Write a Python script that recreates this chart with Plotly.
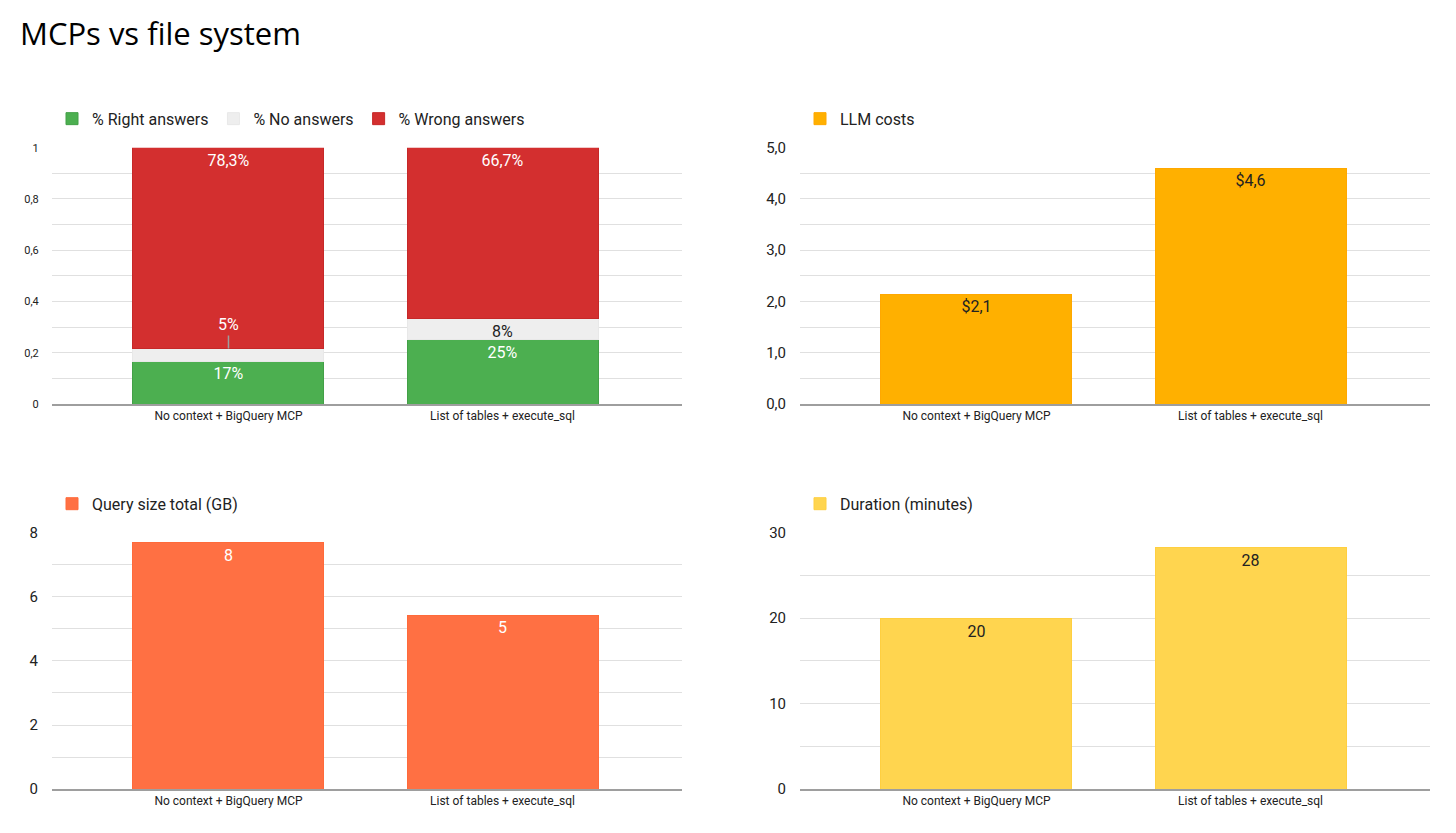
import plotly.graph_objects as go

categories = ["No context + BigQuery MCP", "List of tables + execute_sql"]

right_answers = [0.167, 0.25]
no_answers = [0.05, 0.083]
wrong_answers = [0.783, 0.667]
right_labels = ["17%", "25%"]
no_labels = ["5%", "8%"]
wrong_labels = ["78,3%", "66,7%"]

llm_costs = [2.14, 4.6]
llm_labels = ["$2,1", "$4,6"]

query_size = [7.69, 5.42]
query_labels = ["8", "5"]

duration = [19.96, 28.25]
duration_labels = ["20", "28"]

W, H = 1456, 833
FONT = "Roboto"
GRID = "#e0e0e0"
DARK = "#222222"
LBL = 16

# screen-pixel -> paper-fraction helpers (compensating page offset/scale)
X_OFF, Y_OFF, Y_SCALE = 8, 16, 0.9808


def px_x(v):
    return (v - X_OFF) / W


def px_y(v):
    return 1 - ((v - Y_OFF) / Y_SCALE) / H


fig = go.Figure()

bw = 0.697

# Top-left stacked bars
fig.add_trace(go.Bar(
    x=categories, y=right_answers, name="% Right answers", text=right_labels,
    marker=dict(color="#4caf50", line=dict(color="#43a047", width=1)),
    textposition="inside", insidetextanchor="end", textangle=0,
    insidetextfont=dict(color="white", size=LBL, family=FONT),
    xaxis="x", yaxis="y", legend="legend", width=bw))
no_text = [""] + no_labels[1:]
fig.add_trace(go.Bar(
    x=categories, y=no_answers, name="% No answers", text=no_text,
    marker=dict(color="#eeeeee", line=dict(color="#e8e8e8", width=1)),
    textposition="inside", insidetextanchor="end", textangle=0,
    insidetextfont=dict(color=DARK, size=LBL, family=FONT),
    xaxis="x", yaxis="y", legend="legend", width=bw))
fig.add_trace(go.Bar(
    x=categories, y=wrong_answers, name="% Wrong answers", text=wrong_labels,
    marker=dict(color="#d32f2f", line=dict(color="#c62828", width=1)),
    textposition="inside", insidetextanchor="end", textangle=0,
    insidetextfont=dict(color="white", size=LBL, family=FONT),
    xaxis="x", yaxis="y", legend="legend", width=bw))

# Top-right
fig.add_trace(go.Bar(
    x=categories, y=llm_costs, name="LLM costs", text=llm_labels,
    marker=dict(color="#ffb000", line=dict(color="#ffa800", width=1)),
    textposition="inside", insidetextanchor="end", textangle=0,
    insidetextfont=dict(color=DARK, size=LBL, family=FONT),
    xaxis="x2", yaxis="y2", legend="legend2", width=bw))

# Bottom-left
fig.add_trace(go.Bar(
    x=categories, y=query_size, name="Query size total (GB)", text=query_labels,
    marker=dict(color="#ff7043", line=dict(color="#ff6a3a", width=1)),
    textposition="inside", insidetextanchor="end", textangle=0,
    insidetextfont=dict(color="white", size=LBL, family=FONT),
    xaxis="x3", yaxis="y3", legend="legend3", width=bw))

# Bottom-right
fig.add_trace(go.Bar(
    x=categories, y=duration, name="Duration (minutes)", text=duration_labels,
    marker=dict(color="#ffd54f", line=dict(color="#ffcf40", width=1)),
    textposition="inside", insidetextanchor="end", textangle=0,
    insidetextfont=dict(color=DARK, size=LBL, family=FONT),
    xaxis="x4", yaxis="y4", legend="legend4", width=bw))

# Label for the small 5% segment, placed above with a leader line
fig.add_annotation(
    x=categories[0], y=right_answers[0] + no_answers[0], xref="x", yref="y",
    text=no_labels[0], showarrow=True, arrowhead=0, arrowwidth=1.5,
    arrowcolor="#9e9e9e", ax=0, ay=-24, standoff=0,
    font=dict(color="white", size=LBL, family=FONT))

# Chart title
fig.add_annotation(
    text="MCPs vs file system", xref="paper", yref="paper",
    x=px_x(18), y=px_y(32), xanchor="left", yanchor="middle",
    showarrow=False, font=dict(family="Open Sans", size=31, color="#000000"))

xr = [-0.644, 1.655]
left_dom = [px_x(52), px_x(682)]
right_dom = [px_x(800), px_x(1430)]
top_dom = [px_y(404), px_y(147)]
bot_dom = [px_y(790), px_y(533)]


def xaxis(dom, anchor):
    return dict(domain=dom, anchor=anchor, range=xr, showgrid=False,
                showline=True, linecolor="#9e9e9e", linewidth=1.5,
                tickfont=dict(size=12, color=DARK, family=FONT),
                ticks="", fixedrange=True)


def yaxis(dom, anchor, rng, dtick, minor, size, fmt=None):
    d = dict(domain=dom, anchor=anchor, range=rng, dtick=dtick, tick0=0,
             showgrid=True, gridcolor=GRID, gridwidth=1, zeroline=False,
             minor=dict(dtick=minor, showgrid=True, gridcolor=GRID, gridwidth=1),
             ticks="outside", ticklen=10, tickcolor="rgba(0,0,0,0)",
             tickfont=dict(size=size, color=DARK, family=FONT), fixedrange=True)
    if fmt:
        d["tickformat"] = fmt
    return d


def legend(x, y):
    return dict(x=x, y=y, xanchor="left", yanchor="middle", orientation="h",
                traceorder="normal", bgcolor="rgba(0,0,0,0)",
                font=dict(size=16, color=DARK, family=FONT))


fig.update_layout(
    width=W, height=H,
    margin=dict(l=0, r=0, t=0, b=0),
    paper_bgcolor="white", plot_bgcolor="white",
    separators=", ",
    barmode="stack",
    font=dict(family=FONT, color=DARK),
    xaxis=xaxis(left_dom, "y"),
    yaxis=yaxis(top_dom, "x", [0, 1], 0.2, 0.1, 11),
    xaxis2=xaxis(right_dom, "y2"),
    yaxis2=yaxis(top_dom, "x2", [0, 5], 1, 0.5, 15, ".1f"),
    xaxis3=xaxis(left_dom, "y3"),
    yaxis3=yaxis(bot_dom, "x3", [0, 8], 2, 1, 15),
    xaxis4=xaxis(right_dom, "y4"),
    yaxis4=yaxis(bot_dom, "x4", [0, 30], 10, 5, 15),
    legend=legend(px_x(52), px_y(118)),
    legend2=legend(px_x(800), px_y(118)),
    legend3=legend(px_x(52), px_y(504)),
    legend4=legend(px_x(800), px_y(504)),
    uniformtext=dict(minsize=LBL, mode="show"),
    showlegend=True,
)

fig.write_html("out.html")
